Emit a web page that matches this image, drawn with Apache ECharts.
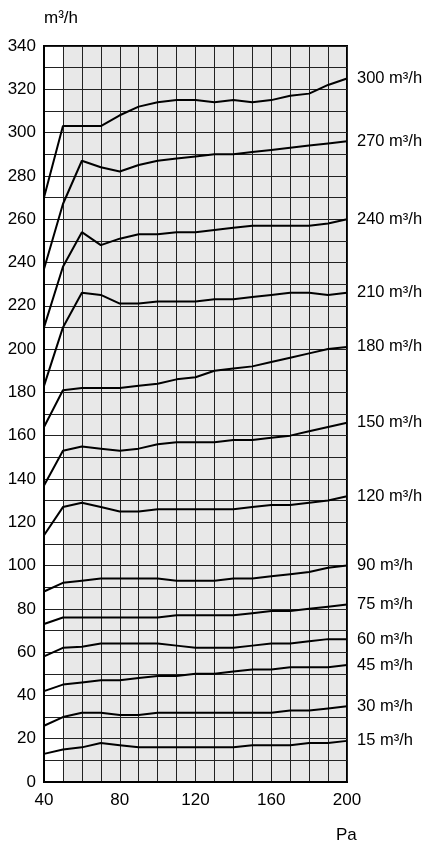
<!DOCTYPE html>
<html>
<head>
<meta charset="utf-8">
<script src="https://cdn.jsdelivr.net/npm/echarts@6/dist/echarts.min.js"></script>
<style>html,body{margin:0;padding:0;background:#fff;}#c{width:425px;height:842px;}</style>
</head>
<body>
<div id="c"></div>
<script>
const pressure = [40, 50, 60, 70, 80, 90, 100, 110, 120, 130, 140, 150, 160, 170, 180, 190, 200];
const seriesNames = ['300 m³/h', '270 m³/h', '240 m³/h', '210 m³/h', '180 m³/h', '150 m³/h', '120 m³/h', '90 m³/h', '75 m³/h', '60 m³/h', '45 m³/h', '30 m³/h', '15 m³/h'];
const flow300 = [270, 303, 303, 303, 308, 312, 314, 315, 315, 314, 315, 314, 315, 317, 318, 322, 325];
const flow270 = [237, 267, 287, 284, 282, 285, 287, 288, 289, 290, 290, 291, 292, 293, 294, 295, 296];
const flow240 = [210, 238, 254, 248, 251, 253, 253, 254, 254, 255, 256, 257, 257, 257, 257, 258, 260];
const flow210 = [183, 210, 226, 225, 221, 221, 222, 222, 222, 223, 223, 224, 225, 226, 226, 225, 226];
const flow180 = [164, 181, 182, 182, 182, 183, 184, 186, 187, 190, 191, 192, 194, 196, 198, 200, 201];
const flow150 = [137, 153, 155, 154, 153, 154, 156, 157, 157, 157, 158, 158, 159, 160, 162, 164, 166];
const flow120 = [114, 127, 129, 127, 125, 125, 126, 126, 126, 126, 126, 127, 128, 128, 129, 130, 132];
const flow90  = [88, 92, 93, 94, 94, 94, 94, 93, 93, 93, 94, 94, 95, 96, 97, 99, 100];
const flow75  = [73, 76, 76, 76, 76, 76, 76, 77, 77, 77, 77, 78, 79, 79, 80, 81, 82];
const flow60  = [58, 62, 62.5, 64, 64, 64, 64, 63, 62, 62, 62, 63, 64, 64, 65, 66, 66];
const flow45  = [42, 45, 46, 47, 47, 48, 49, 49, 50, 50, 51, 52, 52, 53, 53, 53, 54];
const flow30  = [26, 30, 32, 32, 31, 31, 32, 32, 32, 32, 32, 32, 32, 33, 33, 34, 35];
const flow15  = [13, 15, 16, 18, 17, 16, 16, 16, 16, 16, 16, 17, 17, 17, 18, 18, 19];
const allFlows = [flow300, flow270, flow240, flow210, flow180, flow150, flow120, flow90, flow75, flow60, flow45, flow30, flow15];
const shadedRange = [50, 200];

const FONT = '"Liberation Sans", Arial, sans-serif';
const chart = echarts.init(document.getElementById('c'));

const lineSeries = allFlows.map((vals, i) => ({
  type: 'line',
  name: seriesNames[i],
  data: vals.map((v, j) => [pressure[j], v]),
  showSymbol: false,
  symbol: 'none',
  silent: true,
  z: 3,
  lineStyle: { color: '#000', width: 2 },
  endLabel: {
    show: true,
    formatter: seriesNames[i],
    color: '#000',
    fontSize: 16.5,
    fontFamily: FONT,
    distance: 10
  }
}));

lineSeries.push({
  type: 'line',
  name: 'bg',
  data: [],
  z: -1,
  silent: true,
  markArea: {
    silent: true,
    z: -1,
    itemStyle: { color: '#e8e8e8' },
    data: [[{ xAxis: shadedRange[0] }, { xAxis: shadedRange[1] }]]
  }
});

chart.setOption({
  animation: false,
  backgroundColor: '#fff',
  title: {
    text: 'Pa', left: 331, top: 822,
    textStyle: { color: '#000', fontSize: 17, fontWeight: 'normal', fontFamily: FONT }
  },
  grid: { left: 44, right: 78, top: 46, bottom: 60, show: true, borderColor: '#000', borderWidth: 2, backgroundColor: 'transparent', z: 2 },
  xAxis: {
    type: 'value',
    z: 2,
    min: 40, max: 200, interval: 10,
    axisLine: { show: true, lineStyle: { color: '#000', width: 2 } },
    axisTick: { show: false },
    axisLabel: {
      color: '#000', fontSize: 17, fontFamily: FONT, margin: 10,
      formatter: v => (v % 40 === 0 ? String(v) : '')
    },
    splitLine: { show: true, lineStyle: { color: '#222', width: 1 } }
  },
  yAxis: {
    type: 'value',
    z: 2,
    min: 0, max: 340, interval: 10,
    name: 'm³/h',
    nameLocation: 'end',
    nameGap: 19,
    nameTextStyle: { color: '#000', fontSize: 17, fontFamily: FONT, align: 'left' },
    axisLine: { show: true, lineStyle: { color: '#000', width: 2 } },
    axisTick: { show: false },
    axisLabel: {
      color: '#000', fontSize: 17, fontFamily: FONT, margin: 8,
      formatter: v => (v % 20 === 0 ? String(v) : '')
    },
    splitLine: { show: true, lineStyle: { color: '#222', width: 1 } }
  },
  series: lineSeries
});
</script>
</body>
</html>
